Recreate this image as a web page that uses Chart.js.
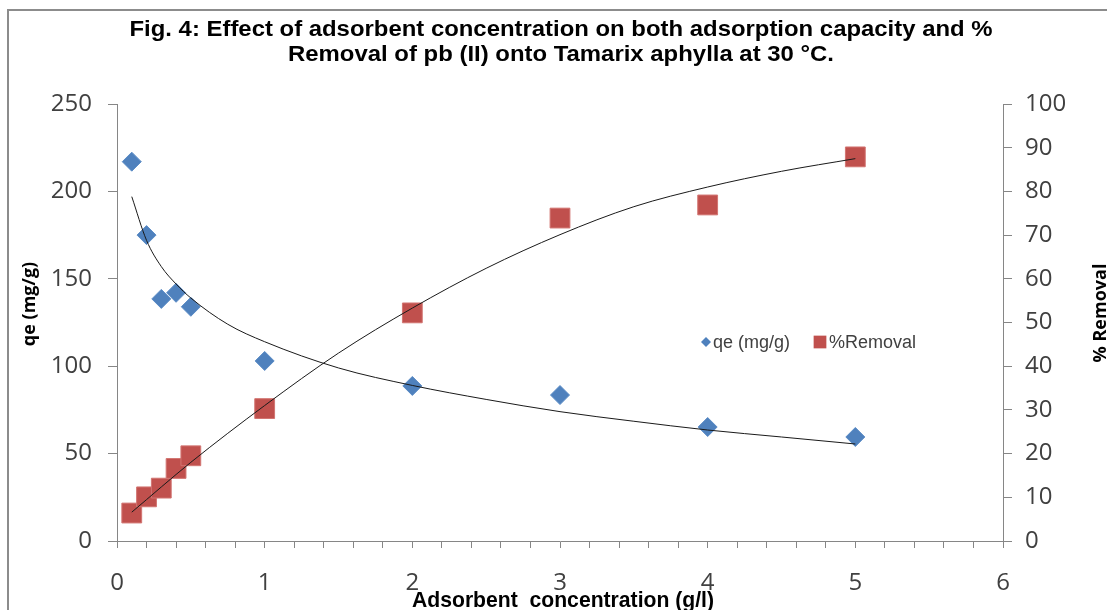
<!DOCTYPE html>
<html>
<head>
<meta charset="utf-8">
<script src="https://cdn.jsdelivr.net/npm/chart.js@4.4.0/dist/chart.umd.min.js"></script>
<style>
  html, body { margin: 0; padding: 0; background: #fff; }
</style>
</head>
<body>
<canvas id="chart" width="1107" height="610"></canvas>
<script>
// adsorbent dose (g/l) and measured points
const doses = [0.1, 0.2, 0.3, 0.4, 0.5, 1, 2, 3, 4, 5]
const qeValues = [217, 175, 138.5, 142, 134, 103, 88.7, 83.5, 65.2, 59.5]
const removalValues = [6.4, 10.1, 12.1, 16.6, 19.5, 30.3, 52.2, 73.9, 76.9, 87.9]

// trend lines
const qeFitDoses = [0.1, 0.2, 0.3, 0.4, 0.5, 0.75, 1, 1.5, 2, 2.5, 3, 3.5, 4, 4.5, 5]
const qeFitValues = [197, 172, 157, 147, 139, 124, 114, 99, 89, 81, 74, 68.5, 63.5, 59.5, 55.5]
const removalFitDoses = [0.1, 0.5, 1, 1.5, 2, 2.5, 3, 3.5, 4, 4.5, 5]
const removalFitValues = [6.6, 18, 31, 43, 53.3, 62.4, 70.1, 76.5, 81, 84.6, 87.5]

const titleLines = [
  'Fig. 4: Effect of adsorbent concentration on both adsorption capacity and %',
  'Removal of pb (II) onto Tamarix aphylla at 30 °C.'
]
const xTitle = 'Adsorbent  concentration (g/l)'
const yTitle = 'qe (mg/g)'
const y2Title = '% Removal'

const toPoints = (xs, ys) => xs.map((x, i) => ({ x: x, y: ys[i] }))

const tickFont = { family: "'Open Sans', 'Noto Sans', sans-serif", size: 24 }
const axisGray = '#868686'
const textGray = '#404040'

// draw text squeezed to a given width (the original uses a narrow bold face)
const fitText = (ctx, text, cx, y, width) => {
  const w = ctx.measureText(text).width
  ctx.save()
  ctx.translate(cx, y)
  ctx.scale(width / w, 1)
  ctx.textAlign = 'center'
  ctx.fillText(text, 0, 0)
  ctx.restore()
}

const decorations = {
  id: 'decorations',
  beforeDraw(chart) {
    const ctx = chart.ctx
    ctx.save()
    ctx.fillStyle = '#fff'
    ctx.fillRect(0, 0, chart.width, chart.height)
    // outer frame, cut by the picture edge
    ctx.strokeStyle = '#8c8c8c'
    ctx.lineWidth = 2
    ctx.beginPath()
    ctx.moveTo(chart.width, 10)
    ctx.lineTo(8, 10)
    ctx.lineTo(8, chart.height)
    ctx.stroke()
    ctx.restore()
  },
  afterDraw(chart) {
    const ctx = chart.ctx
    ctx.save()
    ctx.fillStyle = '#000'
    ctx.textBaseline = 'alphabetic'
    ctx.font = "bold 22px 'Liberation Sans', Arial, sans-serif"
    fitText(ctx, titleLines[0], 561, 36, 863)
    fitText(ctx, titleLines[1], 561, 61, 546)
    fitText(ctx, xTitle, 563, 607, 302)

    // rotated y titles
    ctx.font = "bold 18px 'Open Sans', 'Noto Sans', sans-serif"
    ctx.textAlign = 'center'
    ctx.textBaseline = 'middle'
    ctx.save()
    ctx.translate(30, 304)
    ctx.rotate(-Math.PI / 2)
    ctx.fillText(yTitle, 0, 0)
    ctx.restore()
    ctx.save()
    ctx.translate(1101, 313)
    ctx.rotate(-Math.PI / 2)
    ctx.fillText(y2Title, 0, 0)
    ctx.restore()

    // legend inside the plot
    const items = chart.data.datasets.filter(d => d.inLegend)
    const legendPos = [[706, 342, 5, 713], [820, 342, 9, 829]]
    ctx.font = "18px 'Liberation Sans', Arial, sans-serif"
    ctx.textAlign = 'left'
    items.forEach((d, i) => {
      const p = legendPos[i]
      ctx.fillStyle = d.backgroundColor
      ctx.strokeStyle = d.backgroundColor
      Chart.helpers.drawPoint(ctx, { pointStyle: d.pointStyle, radius: p[2], borderWidth: 0, rotation: 0 }, p[0], p[1])
      ctx.fillStyle = textGray
      ctx.fillText(d.label, p[3], p[1] + 1)
    })
    ctx.restore()
  }
}

new Chart(document.getElementById('chart'), {
  type: 'scatter',
  data: {
    datasets: [
      {
        type: 'line',
        label: 'qe trend',
        data: toPoints(qeFitDoses, qeFitValues),
        yAxisID: 'y',
        borderColor: '#1a1a1a',
        borderWidth: 1,
        pointRadius: 0,
        cubicInterpolationMode: 'monotone',
        order: 0
      },
      {
        type: 'line',
        label: 'removal trend',
        data: toPoints(removalFitDoses, removalFitValues),
        yAxisID: 'y2',
        borderColor: '#1a1a1a',
        borderWidth: 1,
        pointRadius: 0,
        cubicInterpolationMode: 'monotone',
        order: 0
      },
      {
        label: 'qe (mg/g)',
        inLegend: true,
        data: toPoints(doses, qeValues),
        yAxisID: 'y',
        pointStyle: 'rectRot',
        pointRadius: 9.5,
        backgroundColor: '#4F81BD',
        borderColor: '#5b8cc6',
        borderWidth: 1,
        order: 1
      },
      {
        label: '%Removal',
        inLegend: true,
        data: toPoints(doses, removalValues),
        yAxisID: 'y2',
        pointStyle: 'rect',
        pointRadius: 14,
        backgroundColor: '#C0504D',
        borderColor: '#d27471',
        borderWidth: 1,
        order: 1
      }
    ]
  },
  options: {
    responsive: false,
    animation: false,
    layout: { padding: { top: 104, left: 0, right: 0, bottom: 0 } },
    plugins: {
      legend: { display: false },
      title: { display: false },
      tooltip: { enabled: false }
    },
    scales: {
      x: {
        type: 'linear',
        min: 0,
        max: 6,
        afterFit: s => { s.height = 69 },
        border: { color: axisGray },
        grid: { drawOnChartArea: false, tickLength: 7, color: axisGray },
        ticks: {
          stepSize: 0.2,
          autoSkip: false,
          maxRotation: 0,
          padding: 21,
          font: tickFont,
          color: textGray,
          callback: v => Math.abs(v - Math.round(v)) < 1e-6 ? String(Math.round(v)) : ''
        }
      },
      y: {
        position: 'left',
        min: 0,
        max: 250,
        afterFit: s => { s.width = 117 },
        border: { color: axisGray },
        grid: { drawOnChartArea: false, tickLength: 9, color: axisGray },
        ticks: { stepSize: 50, padding: 16, font: tickFont, color: textGray }
      },
      y2: {
        position: 'right',
        min: 0,
        max: 100,
        afterFit: s => { s.width = 104 },
        border: { color: axisGray },
        grid: { drawOnChartArea: false, tickLength: 9, color: axisGray },
        ticks: { stepSize: 10, padding: 13, font: tickFont, color: textGray }
      }
    }
  },
  plugins: [decorations]
})
</script>
</body>
</html>
